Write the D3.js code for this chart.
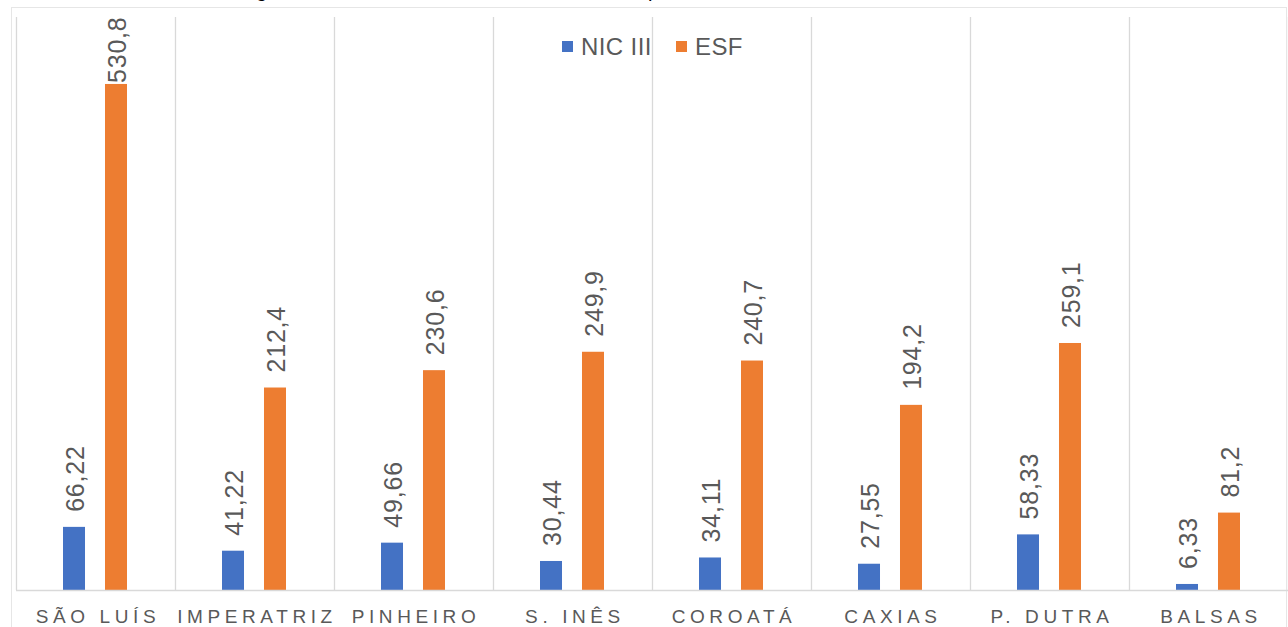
<!DOCTYPE html>
<html>
<head>
<meta charset="utf-8">
<script src="https://cdn.jsdelivr.net/npm/d3@7"></script>
<style>
  body { margin: 0; background: #fff; }
  svg { display: block; font-family: "Liberation Sans", Arial, sans-serif; }
</style>
</head>
<body>
<div id="chart"></div>
<script>
// data
const cities = ["SÃO LUÍS", "IMPERATRIZ", "PINHEIRO", "S. INÊS", "COROATÁ", "CAXIAS", "P. DUTRA", "BALSAS"];
const nicIII = [66.22, 41.22, 49.66, 30.44, 34.11, 27.55, 58.33, 6.33];
const esf = [530.8, 212.4, 230.6, 249.9, 240.7, 194.2, 259.1, 81.2];
const nicLabels = ["66,22", "41,22", "49,66", "30,44", "34,11", "27,55", "58,33", "6,33"];
const esfLabels = ["530,8", "212,4", "230,6", "249,9", "240,7", "194,2", "259,1", "81,2"];
const seriesNames = ["NIC III", "ESF"];
const colors = ["#4472c4", "#ed7d31"];

const W = 1288, H = 627;
const svg = d3.select("#chart").append("svg").attr("width", W).attr("height", H);

// cut-off caption line above the picture (only descenders visible)
svg.append("text")
    .attr("y", -3)
    .attr("font-size", 20)
    .attr("fill", "#000")
    .selectAll("tspan")
    .data([[29, ","], [256, "g"], [598, ","], [648, "p"]])
    .enter().append("tspan")
    .attr("x", d => d[0])
    .text(d => d[1]);

// chart frame
svg.append("rect")
    .attr("x", 11.5).attr("y", 7.5)
    .attr("width", 1275).attr("height", 640)
    .attr("fill", "none")
    .attr("stroke", "#e6e6e6")
    .attr("stroke-width", 1);

const plot = { left: 16, right: 1288, top: 18, bottom: 590 };

let x = d3.scaleBand().domain(cities).range([plot.left, plot.right]);
let y = d3.scaleLinear().domain([0, 600]).range([plot.bottom, plot.top]);
// two bars per category, 22px wide with a 20px gap
let xs = d3.scaleBand().domain(seriesNames).range([47, 111]).paddingInner(0.476).paddingOuter(0);

// vertical gridlines between categories
let bounds = cities.map(c => x(c)).concat([plot.right]);
svg.selectAll(".grid")
    .data(bounds)
    .enter().append("line")
    .attr("class", "grid")
    .attr("x1", d => d + 0.5).attr("x2", d => d + 0.5)
    .attr("y1", plot.top - 1).attr("y2", plot.bottom)
    .attr("stroke", "#d9d9d9")
    .attr("stroke-width", 1.3);

let rows = cities.map((c, i) => ({ city: c, vals: [nicIII[i], esf[i]], labs: [nicLabels[i], esfLabels[i]] }));

let groups = svg.selectAll(".city")
    .data(rows)
    .enter().append("g")
    .attr("class", "city")
    .attr("transform", d => "translate(" + x(d.city) + ",0)");

groups.selectAll("rect")
    .data(d => d.vals.map((v, k) => ({ s: seriesNames[k], v: v, k: k })))
    .enter().append("rect")
    .attr("x", d => xs(d.s))
    .attr("width", xs.bandwidth())
    .attr("y", d => y(d.v))
    .attr("height", d => y(0) - y(d.v))
    .attr("fill", d => colors[d.k]);

// rotated value labels
groups.selectAll(".lab")
    .data(d => d.vals.map((v, k) => ({ s: seriesNames[k], v: v, t: d.labs[k] })))
    .enter().append("text")
    .attr("class", "lab")
    .attr("transform", d => {
        let cx = xs(d.s) + xs.bandwidth() / 2 + 1;
        let ty = Math.max(y(d.v) - 15, 83);
        return "translate(" + cx + "," + ty + ") rotate(-90)";
    })
    .attr("dy", "0.36em")
    .attr("font-size", 25)
    .attr("letter-spacing", 0.8)
    .attr("fill", "#595959")
    .text(d => d.t);

// baseline
svg.append("line")
    .attr("x1", plot.left).attr("x2", plot.right)
    .attr("y1", plot.bottom + 0.5).attr("y2", plot.bottom + 0.5)
    .attr("stroke", "#d9d9d9")
    .attr("stroke-width", 1.3);

// category labels
svg.selectAll(".cat")
    .data(cities)
    .enter().append("text")
    .attr("class", "cat")
    .attr("x", d => x(d) + x.bandwidth() / 2 + 2.5)
    .attr("y", 623)
    .attr("text-anchor", "middle")
    .attr("font-size", 19)
    .attr("letter-spacing", 4.6)
    .attr("fill", "#595959")
    .text(d => d);

// legend
let legend = svg.append("g");
let legX = [562, 676];
seriesNames.forEach((n, i) => {
    legend.append("rect")
        .attr("x", legX[i]).attr("y", 41)
        .attr("width", 11).attr("height", 11)
        .attr("fill", colors[i]);
    legend.append("text")
        .attr("x", legX[i] + 19).attr("y", 55)
        .attr("font-size", 24)
        .attr("letter-spacing", 0.4)
        .attr("fill", "#595959")
        .text(n);
});
</script>
</body>
</html>
